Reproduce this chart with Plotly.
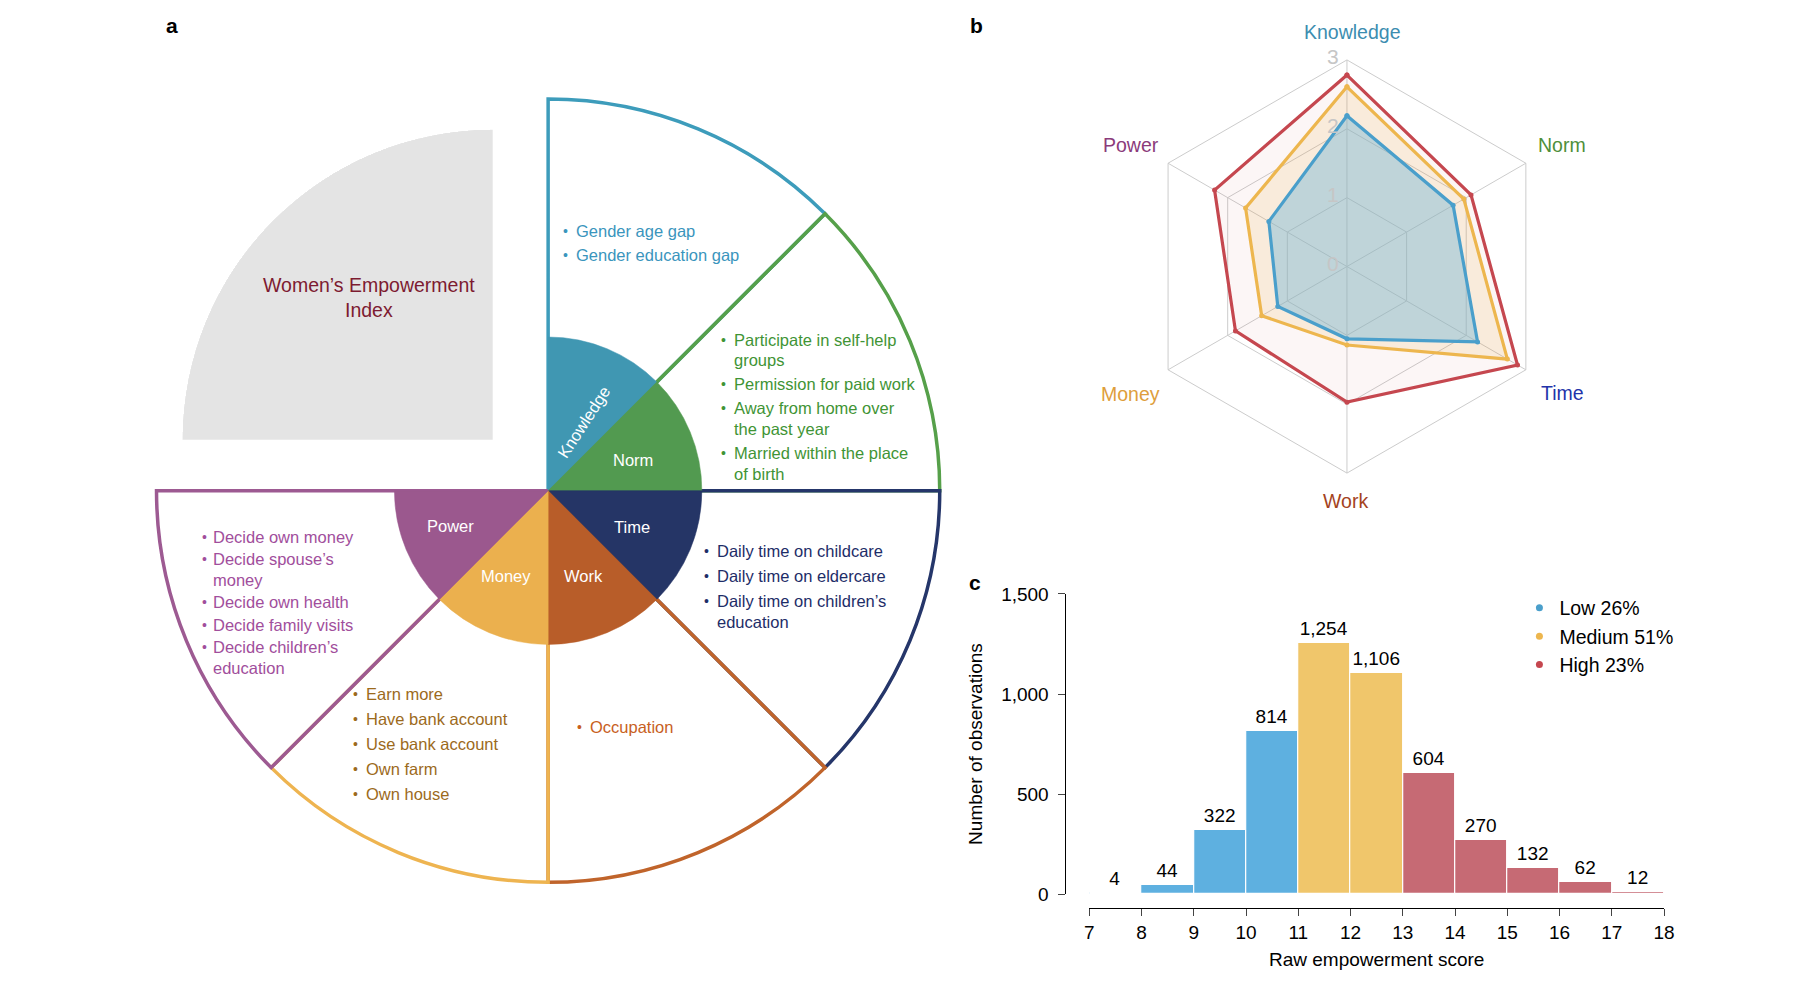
import plotly.graph_objects as go

W, H = 1800, 1002
FONT = "Liberation Sans, Arial, Helvetica, sans-serif"

# ---- panel a: the index wheel ----
dims = ["Knowledge", "Norm", "Time", "Work", "Money", "Power"]
dim_theta = [67.5, 22.5, -22.5, -67.5, -112.5, -157.5]
pie_colors = ["#4097b2", "#529a50", "#253566", "#b85d29", "#ebb04e", "#9b588e"]
rim_colors = ["#3d9cbb", "#56a04a", "#25366a", "#c0642b", "#eeb450", "#9d5a92"]
txt_colors = ["#3a95bd", "#3f9435", "#1e2d68", "#c8601e", "#9c6a1c", "#a14e9c"]

knowledge_items = ["Gender age gap", "Gender education gap"]
norm_items = ["Participate in self-help\ngroups", "Permission for paid work",
              "Away from home over\nthe past year", "Married within the place\nof birth"]
time_items = ["Daily time on childcare", "Daily time on eldercare",
              "Daily time on children\u2019s\neducation"]
work_items = ["Occupation"]
money_items = ["Earn more", "Have bank account", "Use bank account", "Own farm", "Own house"]
power_items = ["Decide own money", "Decide spouse\u2019s\nmoney", "Decide own health",
               "Decide family visits", "Decide children\u2019s\neducation"]
all_items = [knowledge_items, norm_items, time_items, work_items, money_items, power_items]

# ---- panel b: radar of mean dimension scores ----
radar_dims = ["Knowledge", "Norm", "Time", "Work", "Money", "Power"]
radar_low = [2.19, 1.78, 2.19, 1.05, 1.16, 1.31]
radar_medium = [2.61, 1.96, 2.69, 1.14, 1.43, 1.70]
radar_high = [2.78, 2.08, 2.86, 1.97, 1.87, 2.22]
radar_ticks = [0, 1, 2, 3]
radar_label_colors = ["#3c8db0", "#4e8f3a", "#2233aa", "#a4431e", "#de9e3c", "#8b3b7b"]

# ---- panel c: histogram of raw scores ----
score_left = [7, 8, 9, 10, 11, 12, 13, 14, 15, 16, 17]
score_count = [4, 44, 322, 814, 1254, 1106, 604, 270, 132, 62, 12]
score_group = ["Low", "Low", "Low", "Low", "Medium", "Medium",
               "High", "High", "High", "High", "High"]
group_names = ["Low", "Medium", "High"]
group_share = ["26%", "51%", "23%"]
group_bar_colors = ["#5eb0e0", "#f0c66b", "#c66a74"]
group_line_colors = ["#4a9fcb", "#edb64e", "#c5474f"]


def px(x, y):
    # screen pixel -> paper fraction
    return x / W, 1 - y / H


def note(x, y, text, **kw):
    xx, yy = px(x, y)
    d = dict(x=xx, y=yy, xref="paper", yref="paper", text=text, showarrow=False,
             xanchor="center", yanchor="middle")
    d.update(kw)
    return d


fig = go.Figure()
ann = []

# wheel: rims first, then the coloured core on top
fig.add_trace(go.Barpolar(
    r=[1.0] * 6, theta=dim_theta, width=[45] * 6, subplot="polar",
    marker=dict(color="rgba(0,0,0,0)", line=dict(color=rim_colors, width=3.5)),
    hoverinfo="skip", showlegend=False))
fig.add_trace(go.Barpolar(
    r=[0.3925] * 6, theta=dim_theta, width=[45] * 6, subplot="polar",
    marker=dict(color=pie_colors, line=dict(color=pie_colors, width=0.5)),
    hoverinfo="skip", showlegend=False))

# grey quarter for the overall index
fig.add_trace(go.Barpolar(
    r=[1.0], theta=[135], width=[90], subplot="polar2",
    marker=dict(color="#e4e4e4", line=dict(width=0)),
    hoverinfo="skip", showlegend=False))

cx, cy, R = 548, 491, 400
pad = 1.02
x0, y0 = px(cx - R * pad, cy + R * pad)
x1, y1 = px(cx + R * pad, cy - R * pad)
gx0, gy0 = px(176, 439)
gx1, gy1 = px(495, 122)

ann.append(note(367, 294, "Women\u2019s Empowerment<br>Index", align="center",
                font=dict(size=19.5, color="#7d1b31")))

# labels inside the core
core_pos = [(584, 421), (634, 460), (633, 528), (584, 578), (505, 578), (449, 527)]
for name, (lx, ly) in zip(dims, core_pos):
    ann.append(note(lx, ly, name, textangle=-57 if name == "Knowledge" else 0,
                    font=dict(size=16.5, color="white")))

# indicator lists: (bullet x, text x, first line y, gap between items)
blocks = [(566, 574, 226, 24.5), (725, 734, 337, 24.5), (708, 716, 553, 25.5),
          (580, 588, 732, 25), (354, 362, 699, 25.5), (201, 208, 538, 23)]
wrap = 21
for items, col, (bx, tx, ty, gap) in zip(all_items, txt_colors, blocks):
    yy = ty
    for it in items:
        lines = it.split("\n")
        ann.append(note(bx, yy, "\u2022", font=dict(size=14, color=col)))
        for k, ln in enumerate(lines):
            ann.append(note(tx, yy + k * wrap, ln, xanchor="left",
                            font=dict(size=16.5, color=col)))
        yy += (len(lines) - 1) * wrap + gap

# radar: widest first so the smaller shapes sit on top
radar_fills = ["rgba(120,185,215,0.45)", "rgba(237,182,78,0.16)", "rgba(197,71,79,0.05)"]
for vals, lc, fc in reversed(list(zip([radar_low, radar_medium, radar_high],
                                      group_line_colors, radar_fills))):
    fig.add_trace(go.Scatterpolar(
        r=vals + vals[:1], theta=radar_dims + radar_dims[:1], subplot="polar3",
        mode="lines+markers", fill="toself", fillcolor=fc,
        line=dict(color=lc, width=3.2), marker=dict(size=5, color=lc),
        hoverinfo="skip", showlegend=False))

rcx, rcy, rr = 1354, 262, 211
rx0, ry0 = px(rcx - rr, rcy + rr)
rx1, ry1 = px(rcx + rr, rcy - rr)
radar_label_pos = [(1360, 22), (1571, 138), (1571, 391), (1353, 502), (1136, 392), (1136, 138)]
for name, col, (lx, ly) in zip(radar_dims, radar_label_colors, radar_label_pos):
    ann.append(note(lx, ly, name, font=dict(size=19.5, color=col)))
# radial tick labels, upright, just left of the Knowledge spoke
for t in radar_ticks:
    ann.append(note(rcx - 14, rcy - t * rr / radar_ticks[-1] - 3, str(t),
                    font=dict(size=21, color="#c6c6c6")))

# histogram bars, one trace per group
for g, bc in zip(group_names, group_bar_colors):
    xs = [l + 0.5 for l, gg in zip(score_left, score_group) if gg == g]
    ys = [c for c, gg in zip(score_count, score_group) if gg == g]
    fig.add_trace(go.Bar(
        x=xs, y=ys, width=1, marker=dict(color=bc, line=dict(color="white", width=1.2)),
        texttemplate="%{y:,}", textposition="outside", cliponaxis=False,
        textfont=dict(size=19, color="black"), hoverinfo="skip", showlegend=False))
for g, s, bc in zip(group_names, group_share, group_line_colors):
    fig.add_trace(go.Scatter(x=[None], y=[None], mode="markers", name=f"{g} {s}",
                             marker=dict(size=7, color=bc)))

hx0, _ = px(1094, 0)
hx1, _ = px(1674, 0)
_, hy0 = px(0, 903)
_, hy1 = px(0, 596.5)
yax_x, _ = px(1070, 0)
_, xax_y = px(0, 917)
lgx, lgy = px(1528, 591)

for lab, (lx, ly) in zip(["a", "b", "c"], [(168, 16), (980, 16), (979, 585)]):
    ann.append(note(lx, ly, f"<b>{lab}</b>", font=dict(size=21, color="black")))

fig.update_layout(
    width=W, height=H, margin=dict(l=0, r=0, t=0, b=0),
    paper_bgcolor="white", plot_bgcolor="white",
    font=dict(family=FONT, color="black"),
    polar=dict(domain=dict(x=[x0, x1], y=[y0, y1]), bgcolor="rgba(0,0,0,0)",
               barmode="overlay",
               radialaxis=dict(visible=False, range=[0, pad]),
               angularaxis=dict(visible=False, rotation=0, direction="counterclockwise")),
    polar2=dict(domain=dict(x=[gx0, gx1], y=[gy0, gy1]), sector=[90, 180],
                bgcolor="rgba(0,0,0,0)",
                radialaxis=dict(visible=False, range=[0, 1]),
                angularaxis=dict(visible=False, rotation=0, direction="counterclockwise")),
    polar3=dict(domain=dict(x=[rx0, rx1], y=[ry0, ry1]), bgcolor="rgba(0,0,0,0)",
                gridshape="linear",
                radialaxis=dict(range=[0, radar_ticks[-1]], tickvals=radar_ticks, angle=90,
                                showticklabels=False, showline=False, ticks="",
                                gridcolor="#cccccc", gridwidth=1),
                angularaxis=dict(direction="clockwise", rotation=90, showticklabels=False,
                                 ticks="", linecolor="#cccccc", linewidth=1,
                                 gridcolor="#cccccc", gridwidth=1)),
    xaxis=dict(domain=[hx0, hx1], range=[7, 18], anchor="free", position=xax_y,
               tickvals=list(range(7, 19)), ticks="outside", ticklen=7,
               showline=True, linecolor="black", linewidth=1, showgrid=False,
               zeroline=False, tickfont=dict(size=19),
               title=dict(text="Raw empowerment score", font=dict(size=19), standoff=11)),
    yaxis=dict(domain=[hy0, hy1], range=[0, 1500], anchor="free", position=yax_x,
               tickvals=[0, 500, 1000, 1500], tickformat=",", ticks="outside", ticklen=7,
               ticklabelstandoff=6,
               showline=True, linecolor="black", linewidth=1, showgrid=False,
               zeroline=False, tickfont=dict(size=19),
               title=dict(text="Number of observations", font=dict(size=19), standoff=12)),
    legend=dict(x=lgx, y=lgy, xanchor="left", yanchor="top",
                font=dict(size=19.5), bgcolor="rgba(0,0,0,0)", tracegroupgap=0),
    bargap=0,
    annotations=ann,
)

# drop the browser's default body margin so the figure sits at the page origin
fig.write_html("out.html", config={"displayModeBar": False},
               post_script="document.body.style.margin='0px';")
